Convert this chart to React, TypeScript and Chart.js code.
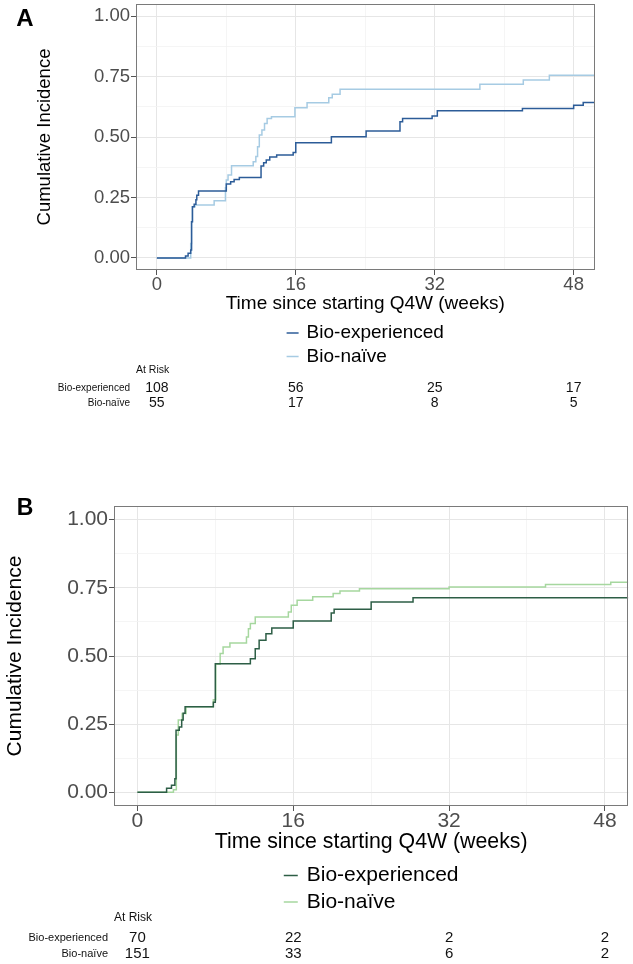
import React, { useEffect, useRef } from 'react';
import { Chart, registerables } from 'chart.js';

Chart.register(...registerables);

const FONT = "'Liberation Sans', Arial, Helvetica, sans-serif";

// ---- shared axis / text data ----
const xTickValues = [0, 8, 16, 24, 32, 40, 48];
const xTickLabels = ['0', '', '16', '', '32', '', '48'];
const yTickValues = [0, 0.125, 0.25, 0.375, 0.5, 0.625, 0.75, 0.875, 1];
const yTickLabels = ['0.00', '', '0.25', '', '0.50', '', '0.75', '', '1.00'];
const groupNames = ['Bio-experienced', 'Bio-naïve'];
const xAxisTitle = 'Time since starting Q4W (weeks)';
const yAxisTitle = 'Cumulative Incidence';
const riskTitle = 'At Risk';
const riskTimes = [0, 16, 32, 48];

// ---- Panel A ----
const aExpWeeks = [0, 3.3, 3.6, 3.9, 4.0, 4.1, 4.3, 4.5, 4.6, 4.8, 8.0, 8.5, 8.9, 9.5, 12.0, 12.3, 12.6, 13.0, 13.8, 15.7, 16.0, 20.1, 24.1, 28.0, 28.3, 31.7, 32.3, 42.1, 48.0, 49.1, 50.4];
const aExpIncidence = [0, 0.008, 0.019, 0.033, 0.15, 0.212, 0.222, 0.241, 0.259, 0.277, 0.306, 0.315, 0.324, 0.333, 0.38, 0.393, 0.405, 0.417, 0.426, 0.436, 0.476, 0.501, 0.525, 0.563, 0.577, 0.587, 0.609, 0.618, 0.631, 0.643, 0.643];
const aNaiveWeeks = [0, 3.9, 4.0, 4.1, 4.4, 6.6, 7.9, 8.0, 8.2, 8.6, 11.1, 11.4, 11.6, 11.8, 12.1, 12.4, 12.7, 13.2, 15.9, 17.3, 19.8, 20.2, 21.1, 37.2, 42.2, 45.2, 50.4];
const aNaiveIncidence = [0, 0.06, 0.15, 0.212, 0.219, 0.236, 0.29, 0.322, 0.343, 0.381, 0.398, 0.419, 0.46, 0.508, 0.529, 0.556, 0.577, 0.584, 0.621, 0.642, 0.662, 0.677, 0.697, 0.718, 0.736, 0.755, 0.755];
const aRiskExp = [108, 56, 25, 17];
const aRiskNaive = [55, 17, 8, 5];

// ---- Panel B ----
const bExpWeeks = [0, 3.0, 3.5, 3.85, 3.97, 4.3, 4.55, 4.7, 4.9, 7.8, 8.0, 11.6, 12.1, 12.5, 13.2, 13.8, 16.0, 19.9, 20.2, 24.0, 28.3, 50.4];
const bExpIncidence = [0, 0.015, 0.026, 0.05, 0.228, 0.24, 0.265, 0.29, 0.314, 0.33, 0.472, 0.49, 0.527, 0.558, 0.582, 0.603, 0.628, 0.658, 0.671, 0.698, 0.714, 0.714];
const bNaiveWeeks = [0, 3.7, 4.0, 4.2, 4.6, 5.0, 7.8, 8.05, 8.5, 8.8, 9.5, 11.2, 11.4, 11.6, 12.1, 15.5, 15.8, 16.4, 18.0, 20.1, 20.8, 22.8, 32.0, 41.9, 48.6, 50.4];
const bNaiveIncidence = [0, 0.01, 0.21, 0.265, 0.289, 0.314, 0.34, 0.47, 0.509, 0.533, 0.548, 0.57, 0.6, 0.619, 0.643, 0.661, 0.686, 0.704, 0.717, 0.729, 0.738, 0.747, 0.753, 0.762, 0.77, 0.77];
const bRiskExp = [70, 22, 2, 2];
const bRiskNaive = [151, 33, 6, 2];

const W = 633;

const panelA = {
  letter: 'A',
  top: 0,
  height: 480,
  series: [
    { weeks: aExpWeeks, inc: aExpIncidence },
    { weeks: aNaiveWeeks, inc: aNaiveIncidence },
  ],
  risk: [aRiskExp, aRiskNaive],
  colors: ['#2c5c98', '#a6cbe3'],
  area: { left: 136, top: 4, right: 594.5, bottom: 270 },
  tickSize: 18.5,
  xTickPad: -1,
  yTitleSize: 18.5,
  xTitleSize: 19,
  legendSize: 19,
  yTitleCenterX: 45,
  xTitleCenterY: 304,
  legendY: [333, 356.5],
  legendKey: 12,
  legendGap: 8,
  riskTitleY: 370,
  riskRowY: [388.5, 403.5],
  riskTitleSize: 10.5,
  riskLabelSize: 10,
  riskNumSize: 14,
  letterX: 25,
  letterY: 19,
  letterSize: 24,
};

const panelB = {
  letter: 'B',
  top: 480,
  height: 484,
  series: [
    { weeks: bExpWeeks, inc: bExpIncidence },
    { weeks: bNaiveWeeks, inc: bNaiveIncidence },
  ],
  risk: [bRiskExp, bRiskNaive],
  colors: ['#2d5e46', '#a6d79f'],
  area: { left: 114, top: 26, right: 628.3, bottom: 326 },
  tickSize: 21,
  xTickPad: -2,
  yTitleSize: 21,
  xTitleSize: 21.3,
  legendSize: 21,
  yTitleCenterX: 15,
  xTitleCenterY: 362,
  legendY: [395.5, 422],
  legendKey: 14,
  legendGap: 9,
  riskTitleY: 437.7,
  riskRowY: [457.7, 474],
  riskTitleSize: 12,
  riskLabelSize: 11,
  riskNumSize: 15,
  letterX: 25,
  letterY: 28.3,
  letterSize: 23,
};

const decorPlugin = {
  id: 'decor',
  afterDatasetsDraw(chart: any) {
    const { ctx, chartArea: a } = chart;
    ctx.save();
    ctx.strokeStyle = '#7a7a7a';
    ctx.lineWidth = 1;
    ctx.strokeRect(Math.round(a.left) + 0.5, Math.round(a.top) + 0.5, Math.round(a.right - a.left) - 1, Math.round(a.bottom - a.top) - 1);
    ctx.restore();
  },
  afterDraw(chart: any, _args: any, o: any) {
    const { ctx, chartArea: a } = chart;
    const xs = chart.scales.x;
    ctx.save();
    // panel letter
    ctx.fillStyle = '#000';
    ctx.font = `bold ${o.letterSize}px ${FONT}`;
    ctx.textAlign = 'center';
    ctx.textBaseline = 'middle';
    ctx.fillText(o.letter, o.letterX, o.letterY);

    // legend
    ctx.font = `${o.legendSize}px ${FONT}`;
    const textW = Math.max(...groupNames.map((n) => ctx.measureText(n).width));
    const total = o.legendKey + o.legendGap + textW;
    const cx = (a.left + a.right) / 2;
    const lx = cx - total / 2;
    groupNames.forEach((name: string, i: number) => {
      const y = o.legendY[i];
      ctx.strokeStyle = o.colors[i];
      ctx.lineWidth = 1.5;
      ctx.beginPath();
      ctx.moveTo(lx, y);
      ctx.lineTo(lx + o.legendKey, y);
      ctx.stroke();
      ctx.fillStyle = '#000';
      ctx.textAlign = 'left';
      ctx.textBaseline = 'middle';
      ctx.fillText(name, lx + o.legendKey + o.legendGap, y);
    });

    // at-risk table
    ctx.fillStyle = '#111';
    ctx.font = `${o.riskTitleSize}px ${FONT}`;
    ctx.textAlign = 'left';
    ctx.textBaseline = 'middle';
    ctx.fillText(riskTitle, a.left, o.riskTitleY);
    groupNames.forEach((name: string, i: number) => {
      const y = o.riskRowY[i];
      ctx.font = `${o.riskLabelSize}px ${FONT}`;
      ctx.textAlign = 'right';
      ctx.fillText(name, a.left - 6, y);
      ctx.font = `${o.riskNumSize}px ${FONT}`;
      ctx.textAlign = 'center';
      riskTimes.forEach((t: number, j: number) => {
        ctx.fillText(String(o.risk[i][j]), xs.getPixelForValue(t), y);
      });
    });
    ctx.restore();
  },
};

function buildChart(canvas: HTMLCanvasElement, p: any) {
  const xTitleLH = p.xTitleSize * 1.2;
  const xAxisH = p.xTitleCenterY - p.area.bottom + xTitleLH / 2;
  const yTitleLH = p.yTitleSize * 1.2;
  const yTitlePad = p.yTitleCenterX - yTitleLH / 2;
  const majorX = (i: number) => xTickLabels[i] !== '';
  const majorY = (i: number) => yTickLabels[i] !== '';
  const zeroPad = (s: any) => {
    s.paddingLeft = 0;
    s.paddingRight = 0;
    s.paddingTop = 0;
    s.paddingBottom = 0;
  };
  return new Chart(canvas, {
    type: 'line',
    data: {
      datasets: p.series.map((s: any, i: number) => ({
        label: groupNames[i],
        data: s.weeks.map((w: number, j: number) => ({ x: w, y: s.inc[j] })),
        borderColor: p.colors[i],
        backgroundColor: p.colors[i],
        borderWidth: 1.5,
        pointRadius: 0,
        stepped: true,
        fill: false,
      })),
    },
    options: {
      responsive: false,
      maintainAspectRatio: false,
      animation: false,
      layout: {
        padding: {
          left: 0,
          top: p.area.top,
          right: W - p.area.right,
          bottom: p.height - p.area.bottom - xAxisH,
        },
      },
      plugins: {
        legend: { display: false },
        tooltip: { enabled: false },
        decor: p,
      } as any,
      scales: {
        x: {
          type: 'linear',
          min: -2.4,
          max: 50.4,
          afterBuildTicks: (s: any) => {
            s.ticks = xTickValues.map((v) => ({ value: v }));
          },
          afterFit: (s: any) => {
            s.height = xAxisH;
            zeroPad(s);
          },
          border: { display: false },
          grid: {
            color: (c: any) => (majorX(c.index) ? '#e6e6e6' : '#f2f2f2'),
            lineWidth: (c: any) => (majorX(c.index) ? 1 : 0.8),
            tickColor: (c: any) => (majorX(c.index) ? '#555' : 'rgba(0,0,0,0)'),
            tickLength: 5,
            drawTicks: true,
          },
          ticks: {
            autoSkip: false,
            maxRotation: 0,
            padding: p.xTickPad,
            color: '#4d4d4d',
            font: { family: FONT, size: p.tickSize },
            callback: (_v: any, i: number) => xTickLabels[i],
          },
          title: {
            display: true,
            text: xAxisTitle,
            color: '#000',
            font: { family: FONT, size: p.xTitleSize },
            padding: { top: 0, bottom: 0 },
          },
        },
        y: {
          type: 'linear',
          min: -0.05,
          max: 1.05,
          afterBuildTicks: (s: any) => {
            s.ticks = yTickValues.map((v) => ({ value: v }));
          },
          afterFit: (s: any) => {
            s.width = p.area.left;
            zeroPad(s);
          },
          border: { display: false },
          grid: {
            color: (c: any) => (majorY(c.index) ? '#e6e6e6' : '#f2f2f2'),
            lineWidth: (c: any) => (majorY(c.index) ? 1 : 0.8),
            tickColor: (c: any) => (majorY(c.index) ? '#555' : 'rgba(0,0,0,0)'),
            tickLength: 5,
            drawTicks: true,
          },
          ticks: {
            autoSkip: false,
            padding: 1,
            color: '#4d4d4d',
            font: { family: FONT, size: p.tickSize },
            callback: (_v: any, i: number) => yTickLabels[i],
          },
          title: {
            display: true,
            text: yAxisTitle,
            color: '#000',
            font: { family: FONT, size: p.yTitleSize },
            padding: { top: yTitlePad, bottom: 0 },
          },
        },
      },
    } as any,
    plugins: [decorPlugin],
  });
}

function Panel({ p }: { p: any }) {
  const ref = useRef<HTMLCanvasElement | null>(null);
  useEffect(() => {
    if (!ref.current) return;
    const chart = buildChart(ref.current, p);
    return () => chart.destroy();
  }, [p]);
  return (
    <div style={{ position: 'absolute', left: 0, top: p.top, width: W, height: p.height }}>
      <canvas ref={ref} width={W} height={p.height} style={{ display: 'block' }} />
    </div>
  );
}

export default function App() {
  return (
    <div style={{ position: 'absolute', left: 0, top: 0, width: W, height: 964, background: '#fff', overflow: 'hidden' }}>
      <Panel p={panelA} />
      <Panel p={panelB} />
    </div>
  );
}
